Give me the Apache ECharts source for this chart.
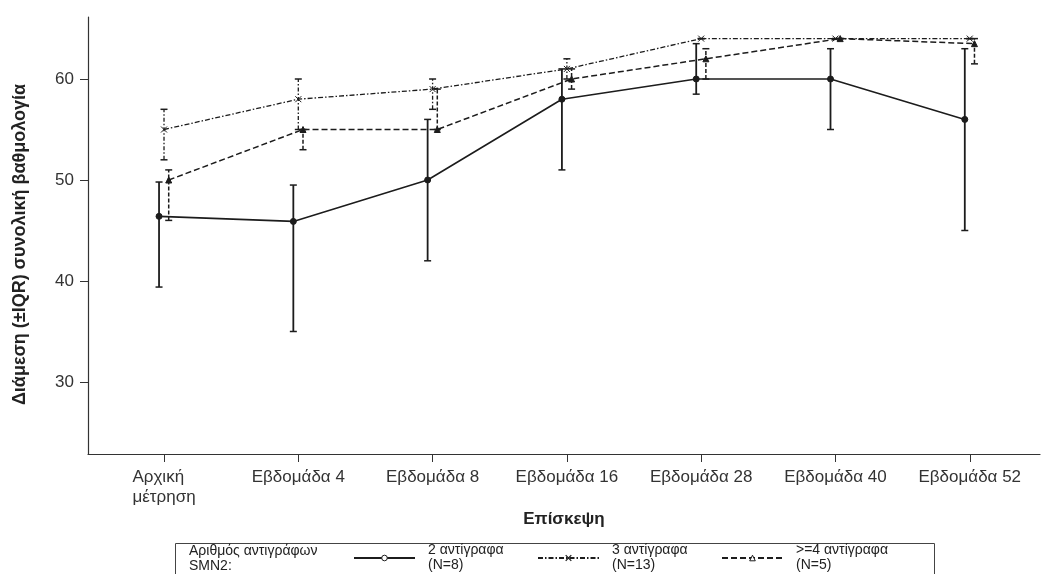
<!DOCTYPE html>
<html>
<head>
<meta charset="utf-8">
<script src="https://cdn.jsdelivr.net/npm/echarts@6/dist/echarts.min.js"></script>
<style>
  html, body { margin: 0; padding: 0; background: #fff; }
  #chart { width: 1045px; height: 574px; }
</style>
</head>
<body>
<div id="chart"></div>
<script>
// visits on the x axis
const visits = ['Αρχική\nμέτρηση', 'Εβδομάδα 4', 'Εβδομάδα 8', 'Εβδομάδα 16', 'Εβδομάδα 28', 'Εβδομάδα 40', 'Εβδομάδα 52'];
const yTicks = [30, 40, 50, 60];

// 2 copies (N=8): median, lower and upper quartile
const twoMedian = [46.4, 45.9, 50, 58, 60, 60, 56];
const twoLow = [39.4, 35, 42, 51, 58.5, 55, 45];
const twoHigh = [49.8, 49.5, 56, 61, 63.5, 63, 63];

// 3 copies (N=13)
const threeMedian = [55, 58, 59, 61, 64, 64, 64];
const threeLow = [52, 55, 57, 60, 64, 64, 64];
const threeHigh = [57, 60, 60, 62, 64, 64, 64];

// >=4 copies (N=5)
const fourMedian = [50, 55, 55, 60, 62, 64, 63.5];
const fourLow = [46, 53, 55, 59, 60, 64, 61.5];
const fourHigh = [51, 55, 59, 61, 63, 64, 64];

const names = ['2 αντίγραφα\n(N=8)', '3 αντίγραφα\n(N=13)', '>=4 αντίγραφα\n(N=5)'];

const ink = '#1c1c1c';
const font = '"Liberation Sans", Arial, sans-serif';
const crossPath = 'path://M0,0L10,10M10,0L0,10';
// small sideways shift so the groups don't sit on top of each other
const shift = [-0.037, 0, 0.035];

function lineSeries(name, med, off, symbol, dash, width) {
  return {
    type: 'line',
    name: name,
    data: med.map((v, i) => [i + off, v]),
    symbol: symbol,
    symbolSize: 6,
    lineStyle: { color: ink, width: width, type: dash },
    itemStyle: { color: ink, borderColor: ink, borderWidth: 1 },
    z: 3
  };
}

function iqrSeries(id, lo, hi, off, dash, width) {
  return {
    type: 'custom',
    name: id,
    silent: true,
    data: lo.map((v, i) => [i + off, v, hi[i]]),
    encode: { x: 0, y: [1, 2] },
    renderItem: function (params, api) {
      const x = api.value(0);
      const a = api.coord([x, api.value(1)]);
      const b = api.coord([x, api.value(2)]);
      const cap = 3.5;
      return {
        type: 'group',
        children: [
          { type: 'line', shape: { x1: a[0], y1: a[1], x2: b[0], y2: b[1] },
            style: { stroke: ink, lineWidth: width, lineDash: dash } },
          { type: 'line', shape: { x1: a[0] - cap, y1: a[1], x2: a[0] + cap, y2: a[1] },
            style: { stroke: ink, lineWidth: 1.5 } },
          { type: 'line', shape: { x1: b[0] - cap, y1: b[1], x2: b[0] + cap, y2: b[1] },
            style: { stroke: ink, lineWidth: 1.5 } }
        ]
      };
    },
    z: 2
  };
}

function legendAt(left, name, itemStyle) {
  return {
    left: left,
    top: 543,
    padding: 0,
    itemWidth: 61,
    itemHeight: 7,
    data: [{ name: name, itemStyle: itemStyle }],
    textStyle: { fontFamily: font, fontSize: 14, lineHeight: 15, color: '#222', padding: [0, 0, 0, 8] }
  };
}

const chart = echarts.init(document.getElementById('chart'));

chart.setOption({
  animation: false,
  backgroundColor: '#fff',
  grid: { left: 88, right: 5, top: 17, bottom: 120, outerBoundsMode: 'none' },
  xAxis: {
    type: 'value',
    min: -0.566,
    max: 6.523,
    splitLine: { show: false },
    axisLine: { show: true, onZero: false, lineStyle: { color: '#333', width: 1.2 } },
    axisTick: { show: true, length: 8, customValues: visits.map((v, i) => i), lineStyle: { color: '#333' } },
    axisLabel: {
      customValues: visits.map((v, i) => i),
      margin: 13,
      fontFamily: font,
      fontSize: 17,
      color: '#333',
      formatter: v => visits[Math.round(v)].split('\n').map(s => '{a|' + s + '}').join('\n'),
      rich: { a: { align: 'left', fontFamily: font, fontSize: 17, lineHeight: 20, color: '#333' } }
    },
    name: 'Επίσκεψη',
    nameLocation: 'middle',
    nameGap: 44,
    nameTextStyle: { fontFamily: font, fontSize: 17, fontWeight: 'bold', color: '#222' }
  },
  yAxis: {
    type: 'value',
    min: 22.87,
    max: 66.14,
    splitLine: { show: false },
    axisLine: { show: true, onZero: false, lineStyle: { color: '#333', width: 1.2 } },
    axisTick: { show: true, length: 8, customValues: yTicks, lineStyle: { color: '#333' } },
    axisLabel: { customValues: yTicks, margin: 14, fontFamily: font, fontSize: 17, color: '#333' },
    name: 'Διάμεση (±IQR) συνολική βαθμολογία',
    nameLocation: 'middle',
    nameGap: 59,
    nameTextStyle: { fontFamily: font, fontSize: 18, fontWeight: 'bold', color: '#222', padding: [0, 18, 0, 0] }
  },
  legend: [
    legendAt(353, names[0], { color: '#fff', borderColor: ink, borderWidth: 1 }),
    legendAt(537, names[1], { color: ink, borderColor: ink, borderWidth: 1.2 }),
    legendAt(721, names[2], { color: '#fff', borderColor: ink, borderWidth: 1 })
  ],
  graphic: [
    { type: 'rect', left: 173, top: 541, shape: { width: 759, height: 60 },
      style: { fill: 'none', stroke: '#444', lineWidth: 1 } },
    { type: 'text', left: 189, top: 544,
      style: { text: 'Αριθμός αντιγράφων\nSMN2:', font: '14px ' + font, lineHeight: 15, fill: '#222' } }
  ],
  series: [
    lineSeries(names[0], twoMedian, shift[0], 'circle', 'solid', 1.6),
    lineSeries(names[1], threeMedian, shift[1], crossPath, [5, 2, 1.5, 2], 1.3),
    lineSeries(names[2], fourMedian, shift[2], 'triangle', [6, 3], 1.5),
    iqrSeries('iqr2', twoLow, twoHigh, shift[0], null, 1.8),
    iqrSeries('iqr3', threeLow, threeHigh, shift[1], [4, 2, 1.5, 2], 1.3),
    iqrSeries('iqr4', fourLow, fourHigh, shift[2], [4, 2], 1.5)
  ]
});
</script>
</body>
</html>
